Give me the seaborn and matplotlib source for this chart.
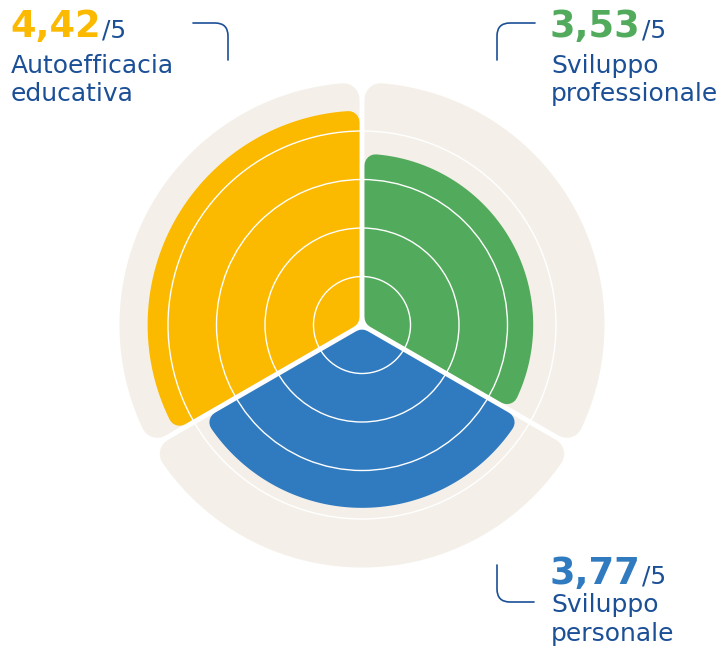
import numpy as np
import matplotlib
matplotlib.use("Agg")
import matplotlib.pyplot as plt
from matplotlib.path import Path
from matplotlib.patches import PathPatch
import seaborn as sns

# data (clockwise from the top)
categories = ["Sviluppo professionale", "Sviluppo personale", "Autoefficacia educativa"]
scores = [3.53, 3.77, 4.42]
score_labels = ["3,53", "3,77", "4,42"]
max_score = 5
colors = ["#52AB5C", "#307BC0", "#FBB900"]
beige = "#F4F0E9"
navy = "#1B4F96"

W, H, DPI = 723, 650, 100
CX, CY = 362, 325          # centre of the chart in pixels
SCALE = 48.5               # pixels per score unit
R_AX = 5.2

sns.set_theme(style="white")
plt.rcParams["font.family"] = ["DejaVu Sans"]

fig = plt.figure(figsize=(W / DPI, H / DPI), dpi=DPI)
rpx = R_AX * SCALE
ax = fig.add_axes([(CX - rpx) / W, (H - CY - rpx) / H, 2 * rpx / W, 2 * rpx / H],
                  projection="polar")
ax.set_theta_zero_location("N")
ax.set_theta_direction(-1)
ax.set_ylim(0, R_AX)


def rounded_sector(t1, t2, r_out, color, corner_px, gap_px):
    # eroded wedge, then grown back by a thick round-joined edge
    rc = corner_px / SCALE
    d = gap_px / 2 / SCALE + rc
    half = (t2 - t1) / 2
    r0 = d / np.sin(half)
    rmax = r_out - rc
    rr = np.linspace(r0, rmax, 80)
    left = t1 + np.arcsin(np.clip(d / rr, -1, 1))
    right = t2 - np.arcsin(np.clip(d / rr, -1, 1))
    arc = np.linspace(left[-1], right[-1], 150)
    th = np.concatenate([left, arc, right[::-1]])
    r = np.concatenate([rr, np.full_like(arc, rmax), rr[::-1]])
    ax.fill(th, r, facecolor=color, edgecolor=color,
            linewidth=2 * corner_px * 72 / DPI, joinstyle="round", zorder=1)


width = 2 * np.pi / len(categories)
for i in range(len(categories)):
    t1 = i * width
    rounded_sector(t1, t1 + width, max_score, beige, 16, 5)
for i, (val, col) in enumerate(zip(scores, colors)):
    t1 = i * width
    rounded_sector(t1, t1 + width, val, col, 11, 5)

ax.set_rticks([1, 2, 3, 4])
ax.set_yticklabels([])
ax.set_xticks([])
ax.yaxis.grid(True, color="white", linewidth=1.0)
ax.xaxis.grid(False)
ax.set_axisbelow(False)
ax.spines["polar"].set_visible(False)
ax.patch.set_alpha(0)

# overlay in pixel coordinates for labels and connectors
ov = fig.add_axes([0, 0, 1, 1], zorder=5)
ov.set_xlim(0, W)
ov.set_ylim(H, 0)
ov.axis("off")

label_pos = {
    "Autoefficacia educativa": (10, [37, 73, 101]),
    "Sviluppo professionale": (550, [37, 73, 101]),
    "Sviluppo personale": (550, [584, 612, 641]),
}
fig.canvas.draw()
renderer = fig.canvas.get_renderer()
for cat, lab, col in zip(categories, score_labels, colors):
    x, ys = label_pos[cat]
    t = ov.text(x, ys[0], lab, fontsize=26.5, fontweight="bold", color=col,
                ha="left", va="baseline")
    bb = t.get_window_extent(renderer)
    x1 = ov.transData.inverted().transform((bb.x1, bb.y0))[0]
    ov.text(x1 + 1, ys[0], "/5", fontsize=18, color=navy, ha="left", va="baseline")
    for line, y in zip(cat.split(" "), ys[1:]):
        ov.text(x + 1, y, line, fontsize=18, color=navy, ha="left", va="baseline")

connectors = [
    [(193, 23), (215, 23), (228, 23), (228, 36), (228, 60)],
    [(535, 23), (510, 23), (497, 23), (497, 36), (497, 60)],
    [(497, 565), (497, 589), (497, 602), (510, 602), (534, 602)],
]
codes = [Path.MOVETO, Path.LINETO, Path.CURVE3, Path.CURVE3, Path.LINETO]
for pts in connectors:
    ov.add_patch(PathPatch(Path(pts, codes), facecolor="none", edgecolor=navy,
                           linewidth=1.2, capstyle="round"))

fig.savefig("out.png", dpi=DPI, facecolor="white")
